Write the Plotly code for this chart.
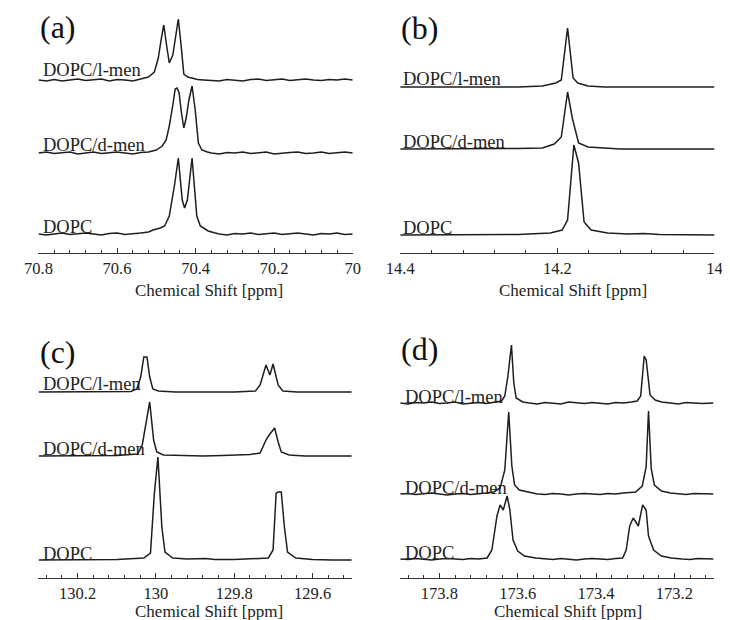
import plotly.graph_objects as go

# ---------------- data (ppm, intensity above own baseline) ----------------
# Panel (a)
A_LMEN = [(70.80,0),(70.78,-1),(70.76,0.5),(70.74,-1),(70.72,0),(70.70,1),(70.68,-0.5),(70.66,0),(70.64,1),(70.62,-1),
          (70.60,0.5),(70.58,0),(70.56,-1),(70.54,1),(70.52,3),(70.505,8),(70.495,22),(70.487,42),(70.481,55),(70.474,35),
          (70.467,17),(70.458,25),(70.450,48),(70.444,61),(70.437,35),(70.430,6),(70.420,3),(70.410,2),(70.395,0.5),
          (70.38,0),(70.36,-0.5),(70.34,-1),(70.32,0.5),(70.30,0),(70.28,-1),(70.26,0.5),(70.24,1),(70.22,-0.5),(70.20,0),
          (70.18,1),(70.16,-0.5),(70.14,0),(70.12,1),(70.10,0),(70.08,-0.5),(70.06,0.5),(70.04,0),(70.02,1),(70.00,0)]
A_DMEN = [(70.80,0),(70.78,1),(70.76,-0.5),(70.74,0),(70.72,1),(70.70,-1),(70.68,0),(70.66,1),(70.64,-0.5),(70.62,0),
          (70.60,1),(70.58,0),(70.56,-1),(70.54,0.5),(70.52,1),(70.500,3),(70.485,7),(70.475,13),(70.467,27),(70.458,48),
          (70.452,64),(70.447,65),(70.442,60),(70.436,40),(70.430,25),(70.424,35),(70.417,53),(70.409,67),(70.401,43),
          (70.393,10),(70.384,3),(70.370,1),(70.36,0),(70.34,-1),(70.32,0.5),(70.30,0),(70.28,1),(70.26,-0.5),(70.24,0),
          (70.22,1),(70.20,-1),(70.18,0),(70.16,0.5),(70.14,1),(70.12,-0.5),(70.10,0),(70.08,1),(70.06,-0.5),(70.04,0),
          (70.02,1),(70.00,0)]
A_DOPC = [(70.80,0),(70.78,-1),(70.76,0),(70.74,1),(70.72,-0.5),(70.70,0),(70.68,1),(70.66,0),(70.64,-1),(70.62,0.5),
          (70.60,1),(70.58,-0.5),(70.56,0),(70.54,1),(70.52,2),(70.508,4),(70.490,6),(70.479,8),(70.467,18),(70.454,48),
          (70.444,76),(70.434,34),(70.428,26),(70.421,34),(70.409,76),(70.397,18),(70.388,8),(70.368,3),(70.350,1),
          (70.34,0),(70.32,-1),(70.30,0.5),(70.28,0),(70.26,1),(70.24,-0.5),(70.22,0),(70.20,1),(70.18,-0.5),(70.16,0),
          (70.14,1),(70.12,0),(70.10,-1),(70.08,0.5),(70.06,0),(70.04,1),(70.02,-0.5),(70.00,0)]

# Panel (b)
B_LMEN = [(14.40,0),(14.35,0),(14.30,0),(14.25,0),(14.219,1),(14.202,4),(14.195,7),(14.187,59),(14.180,9),
          (14.174,4),(14.161,1),(14.14,0),(14.10,0),(14.05,0),(14.00,0)]
B_DMEN = [(14.40,0),(14.35,0),(14.30,0),(14.25,0.5),(14.219,1),(14.204,5),(14.195,12),(14.187,57),(14.181,31),
          (14.173,6),(14.161,2),(14.145,1),(14.12,0),(14.08,0),(14.04,0),(14.00,0)]
B_DOPC = [(14.40,0),(14.35,0),(14.30,0),(14.25,0.5),(14.209,2),(14.194,5),(14.187,15),(14.179,90),(14.173,72),
          (14.166,13),(14.157,5),(14.136,2),(14.11,1),(14.09,1.5),(14.07,0.5),(14.04,0),(14.00,0)]

# Panel (c)
C_LMEN = [(130.30,0),(130.20,0),(130.10,0),(130.064,0.5),(130.049,3),(130.039,15),(130.031,35),(130.023,35),
          (130.016,15),(130.008,3),(129.994,1),(129.95,0),(129.90,0),(129.85,0),(129.80,0),(129.746,1),(129.734,7),
          (129.719,27),(129.709,17),(129.701,28),(129.688,7),(129.676,1),(129.64,0),(129.60,0),(129.55,0),(129.50,0)]
C_DMEN = [(130.30,0),(130.20,0),(130.10,0.5),(130.047,2),(130.035,11),(130.016,54),(130.006,16),(129.998,4),
          (129.981,1),(129.93,0.5),(129.88,0),(129.83,0.5),(129.80,1),(129.76,1.5),(129.734,3),(129.719,16),
          (129.711,21),(129.697,28),(129.688,14),(129.680,4),(129.660,1),(129.62,0),(129.56,0),(129.50,0)]
C_DOPC = [(130.30,0),(130.20,0),(130.10,0.5),(130.031,2),(130.014,7),(130.004,67),(129.995,103),(129.985,33),
          (129.977,8),(129.957,2),(129.92,1),(129.874,1.5),(129.85,0.5),(129.80,0.5),(129.75,1),(129.713,2),
          (129.701,10),(129.693,67),(129.688,68),(129.680,68),(129.672,33),(129.664,8),(129.643,2),(129.60,0.5),
          (129.55,0),(129.50,0)]

# Panel (d)
D_LMEN = [(173.90,0),(173.88,-1),(173.86,0.5),(173.84,0),(173.82,1),(173.80,-0.5),(173.78,0),(173.76,1),(173.74,-1),
          (173.72,0),(173.70,0.5),(173.68,-0.5),(173.66,0.5),(173.641,2),(173.633,7),(173.625,27),(173.616,58),
          (173.610,20),(173.604,5),(173.587,1),(173.57,0),(173.55,-1),(173.53,0.5),(173.51,0),(173.49,-1),(173.47,1),
          (173.45,0),(173.43,-0.5),(173.41,0.5),(173.39,0),(173.37,-1),(173.35,0.5),(173.33,0),(173.31,1),(173.295,2),
          (173.286,7),(173.281,33),(173.277,47),(173.272,43),(173.267,23),(173.262,8),(173.249,3),(173.233,1),
          (173.21,0),(173.19,-1),(173.17,0.5),(173.15,0),(173.13,-0.5),(173.10,0)]
D_DMEN = [(173.90,0),(173.88,0.5),(173.86,-0.5),(173.84,0),(173.82,1),(173.80,0),(173.78,-1),(173.76,0),(173.74,0.5),
          (173.72,-0.5),(173.70,0),(173.68,1),(173.661,2),(173.645,6),(173.633,24),(173.623,82),(173.615,28),
          (173.608,9),(173.596,4),(173.571,2),(173.55,0),(173.53,-0.5),(173.51,0.5),(173.49,0),(173.47,-1),(173.45,0),
          (173.43,0.5),(173.41,0),(173.39,-0.5),(173.37,0.5),(173.35,0),(173.33,1),(173.299,2),(173.282,8),(173.272,27),
          (173.266,83),(173.259,25),(173.251,9),(173.233,3),(173.21,1),(173.19,0),(173.17,-0.5),(173.15,0.5),
          (173.13,0),(173.10,0)]
D_DOPC = [(173.90,0),(173.88,-0.5),(173.86,0.5),(173.84,0),(173.82,-1),(173.80,0),(173.78,0.5),(173.76,0),(173.74,-0.5),
          (173.72,0.5),(173.70,0),(173.678,1),(173.666,9),(173.653,43),(173.645,54),(173.637,49),(173.627,63),
          (173.620,49),(173.612,19),(173.600,8),(173.583,3),(173.554,1),(173.53,0),(173.51,-0.5),(173.49,0.5),(173.47,0),
          (173.45,-1),(173.43,0),(173.41,0.5),(173.39,0),(173.37,-0.5),(173.35,0.5),(173.332,1),(173.323,9),
          (173.314,33),(173.305,41),(173.292,33),(173.281,54),(173.272,49),(173.266,23),(173.253,9),(173.233,3),
          (173.208,1),(173.18,0),(173.16,-0.5),(173.14,0.5),(173.12,0),(173.10,0)]

SAMPLE_LABELS = ["DOPC/l-men", "DOPC/d-men", "DOPC"]
PANEL_LETTERS = ["(a)", "(b)", "(c)", "(d)"]
X_RANGES = [(70.8, 70.0), (14.4, 14.0), (130.3, 129.5), (173.9, 173.1)]
AXIS_TITLE = "Chemical Shift [ppm]"

# ---------------- layout / style (page-pixel geometry) ----------------
W, H = 730, 620
PAGE_OFF = 8          # the page body margin shifts the figure by this many px
FONT = "Liberation Serif, Times New Roman, DejaVu Serif, serif"
LINE = "#1e1e1e"
PANELS = [
    dict(data=[A_LMEN, A_DMEN, A_DOPC], x0=25, x1=349, top=8, axis=253, base=[80, 153, 234],
         lab_x=28, lab_y=[70, 145, 227], let=(24, 27), title=(201, 290)),
    dict(data=[B_LMEN, B_DMEN, B_DOPC], x0=398, x1=722, top=8, axis=253, base=[87, 149, 235],
         lab_x=399, lab_y=[79, 142, 228], let=(397, 28), title=(576, 290)),
    dict(data=[C_LMEN, C_DMEN, C_DOPC], x0=25, x1=348, top=325, axis=578, base=[392, 456, 560],
         lab_x=28, lab_y=[384, 449, 554], let=(24, 352), title=(201, 611)),
    dict(data=[D_LMEN, D_DMEN, D_DOPC], x0=398, x1=721, top=325, axis=578, base=[403, 494, 559],
         lab_x=401, lab_y=[397, 488, 553], let=(397, 349), title=(571, 611)),
]

fig = go.Figure()
annotations = []

def px2paper(px, py):
    return (px - PAGE_OFF) / W, 1 - (py - PAGE_OFF) / H

for i, p in enumerate(PANELS):
    n = "" if i == 0 else str(i + 1)
    height = p["axis"] - p["top"]
    for k, series in enumerate(p["data"]):
        offset = p["axis"] - p["base"][k]
        xs = [v[0] for v in series]
        ys = [v[1] + offset for v in series]
        fig.add_trace(go.Scatter(x=xs, y=ys, mode="lines", xaxis="x" + n, yaxis="y" + n,
                                 line=dict(color=LINE, width=1.5), hoverinfo="skip", showlegend=False))
        ax, ay = px2paper(p["lab_x"], p["lab_y"][k])
        annotations.append(dict(text=SAMPLE_LABELS[k], x=ax, y=ay, xref="paper", yref="paper",
                                xanchor="left", yanchor="middle", showarrow=False,
                                font=dict(family=FONT, size=18.5, color="#222")))
    lx, ly = px2paper(*p["let"])
    annotations.append(dict(text=PANEL_LETTERS[i], x=lx, y=ly, xref="paper", yref="paper",
                            xanchor="left", yanchor="middle", showarrow=False,
                            font=dict(family=FONT, size=32, color="#111")))
    tx, ty = px2paper(*p["title"])
    annotations.append(dict(text=AXIS_TITLE, x=tx, y=ty, xref="paper", yref="paper",
                            xanchor="center", yanchor="middle", showarrow=False,
                            font=dict(family=FONT, size=17, color="#222")))
    dx0, _ = px2paper(p["x0"], 0)
    dx1, _ = px2paper(p["x1"], 0)
    _, dy0 = px2paper(0, p["axis"])
    _, dy1 = px2paper(0, p["top"])
    fig.update_layout(**{
        "xaxis" + n: dict(domain=[dx0, dx1], range=list(X_RANGES[i]), anchor="y" + n,
                          showline=True, linecolor="#333", linewidth=1.3, ticks="inside", ticklen=5,
                          tickwidth=1.2, tickcolor="#333", tick0=0, dtick=0.2, showgrid=False, zeroline=False,
                          minor=dict(ticks="inside", dtick=0.04, tick0=0, ticklen=3, tickwidth=1, tickcolor="#333",
                                     showgrid=False),
                          tickfont=dict(family=FONT, size=16.5, color="#222"), fixedrange=True),
        "yaxis" + n: dict(domain=[dy0, dy1], range=[0, height], visible=False,
                          anchor="x" + n, fixedrange=True),
    })

fig.update_layout(width=W, height=H, margin=dict(l=0, r=0, t=0, b=0), paper_bgcolor="white",
                  plot_bgcolor="white", showlegend=False, annotations=annotations,
                  font=dict(family=FONT))

fig.write_html("out.html")
